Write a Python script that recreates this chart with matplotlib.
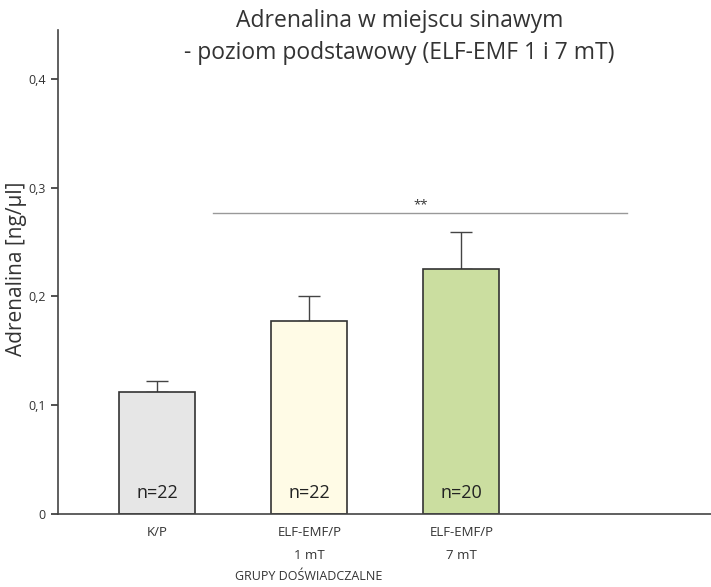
import matplotlib.pyplot as plt
import numpy as np

plt.rcParams['font.family'] = ['Open Sans', 'DejaVu Sans']

# data
groups = ['K/P', 'ELF-EMF/P\n1 mT', 'ELF-EMF/P\n7 mT']
means = [0.112, 0.177, 0.225]
errors = [0.010, 0.023, 0.034]
n_labels = ['n=22', 'n=22', 'n=20']
colors = ['#e6e6e6', '#fffbe6', '#cbdea0']
yticks = [0, 0.1, 0.2, 0.3, 0.4]
ytick_labels = ['0', '0,1', '0,2', '0,3', '0,4']
sig_level = 0.277

fig = plt.figure(figsize=(7.11, 5.87), dpi=100)
ax = fig.add_axes([0.0816, 0.1244, 0.9184, 0.8246])

x = np.arange(len(groups))
ax.bar(x, means, width=0.5, color=colors, edgecolor='#333333', linewidth=1.2, zorder=2)
ax.errorbar(x, means, yerr=[np.zeros(len(errors)), errors], fmt='none',
            ecolor='#444444', elinewidth=1.0, capsize=8, capthick=1.0, zorder=1)

for xi, lab in zip(x, n_labels):
    ax.text(xi, 0.019, lab, ha='center', va='center', fontsize=13, color='#222222')

# significance line
ax.plot([0.37, 3.09], [sig_level, sig_level], color='#999999', linewidth=1.0)
ax.text(1.73, sig_level + 0.001, '**', ha='center', va='bottom', fontsize=9.5, color='#333333')

ax.set_xlim(-0.651, 3.64)
ax.set_ylim(0, 0.445)
ax.set_yticks(yticks)
ax.set_yticklabels(ytick_labels, fontsize=9, color='#333333')
ax.set_xticks(x)
ax.set_xticklabels(groups, fontsize=9.5, color='#333333', linespacing=1.95)
ax.tick_params(axis='x', length=0, pad=9)
ax.tick_params(axis='y', length=5, width=1.2, color='#333333', pad=4)

for s in ['top', 'right']:
    ax.spines[s].set_visible(False)
for s in ['left', 'bottom']:
    ax.spines[s].set_color('#444444')
    ax.spines[s].set_linewidth(1.2)

ax.set_ylabel('Adrenalina [ng/µl]', fontsize=15, color='#333333')
ax.yaxis.set_label_coords(-0.047, 0.506)
ax.set_xlabel('GRUPY DOŚWIADCZALNE', fontsize=9, color='#333333')
ax.xaxis.set_label_coords(0.384, -0.116)

fig.text(0.562, 0.937, 'Adrenalina w miejscu sinawym\n- poziom podstawowy (ELF-EMF 1 i 7 mT)',
         ha='center', va='center', fontsize=16.5, color='#333333', linespacing=1.45)

fig.savefig('out.png', dpi=100)
